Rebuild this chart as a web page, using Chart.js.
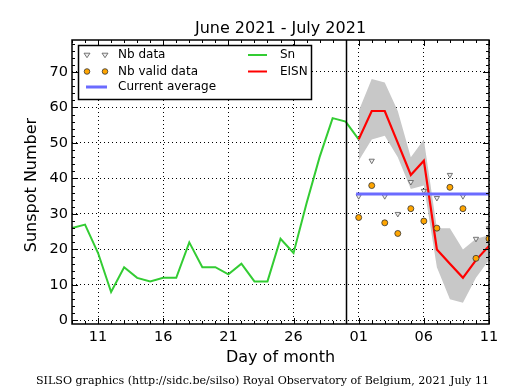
<!DOCTYPE html>
<html>
<head>
<meta charset="utf-8">
<script src="https://cdn.jsdelivr.net/npm/chart.js@4.4.1/dist/chart.umd.min.js"></script>
<style>
html,body{margin:0;padding:0;background:#fff}
#wrap{width:515px;height:390px}
</style>
</head>
<body>
<div id="wrap"><canvas id="c" width="515" height="390"></canvas></div>
<script>
// days counted from June 1 (31 = July 1)
const snDays = [9,10,11,12,13,14,15,16,17,18,19,20,21,22,23,24,25,26,27,28,29,30,31]
const snValues = [26,27,19,8,15,12,11,12,12,22,15,15,13,16,11,11,23,19,33,46,57,56,51]

const eisnDays = [31,32,33,34,35,36,37,38,39,40,41]
const eisnValues = [51,59,59,50,41,45,20,16,12,17,21]
const eisnHigh = [59,68,67,59,46,51,26,26,20,23,24]
const eisnLow = [45,51,52,46,37,38,15,6,5,12,17]
const nbData = [35,45,35,30,39,36.5,34.5,41,35,23,26]
const nbValid = [29,38,27.5,24.5,31.5,28,26,37.5,31.5,17.5,23]

const avgDays = [30.8,41]
const avgValues = [35.6,35.6]

const xTicks = [11,16,21,26,31,36,41]
const xTickLabels = ['11','16','21','26','01','06','11']
const yTicks = [0,10,20,30,40,50,60,70]
const monthEnd = 30

const FONT = "'DejaVu Sans', sans-serif"

function pts(xs, ys){
    return xs.map((x,i) => ({x:x, y:ys[i]}))
}

function downTri(ctx, x, y, r){
    ctx.beginPath()
    ctx.moveTo(x - r, y - r*0.6)
    ctx.lineTo(x + r, y - r*0.6)
    ctx.lineTo(x, y + r*0.9)
    ctx.closePath()
    ctx.fill()
    ctx.stroke()
}

const decor = {
    id: 'decor',
    afterDraw(chart){
        const ctx = chart.ctx
        const a = chart.chartArea
        const xs = chart.scales.x, ys = chart.scales.y
        ctx.save()

        // june / july separator
        const xv = Math.round(xs.getPixelForValue(monthEnd)) + 0.5
        ctx.strokeStyle = '#000'
        ctx.lineWidth = 1.5
        ctx.beginPath(); ctx.moveTo(xv, a.top); ctx.lineTo(xv, a.bottom); ctx.stroke()

        // tick marks, inside, all four sides
        ctx.lineWidth = 1
        ctx.beginPath()
        for (let d = 9; d <= 41; d++){
            const px = Math.round(xs.getPixelForValue(d)) + 0.5
            const len = xTicks.includes(d) ? 6 : 3
            ctx.moveTo(px, a.bottom); ctx.lineTo(px, a.bottom - len)
            ctx.moveTo(px, a.top); ctx.lineTo(px, a.top + len)
        }
        for (let v = 0; v <= 78; v += 2){
            const py = Math.round(ys.getPixelForValue(v)) + 0.5
            const len = yTicks.includes(v) ? 6 : 3
            ctx.moveTo(a.left, py); ctx.lineTo(a.left + len, py)
            ctx.moveTo(a.right, py); ctx.lineTo(a.right - len, py)
        }
        ctx.stroke()

        // frame
        ctx.lineWidth = 1.5
        ctx.strokeRect(a.left, a.top, a.right - a.left, a.bottom - a.top)

        // title + axis titles
        ctx.fillStyle = '#000'
        ctx.font = '16px ' + FONT
        ctx.textAlign = 'center'
        ctx.textBaseline = 'alphabetic'
        ctx.fillText('June 2021 - July 2021', (a.left + a.right)/2, 33)
        ctx.fillText('Day of month', (a.left + a.right)/2, 362)
        ctx.save()
        ctx.translate(36, (a.top + a.bottom)/2 + 3)
        ctx.rotate(-Math.PI/2)
        ctx.fillText('Sunspot Number', 0, 0)
        ctx.restore()

        // footer
        const foot = 'SILSO graphics (http://sidc.be/silso) Royal Observatory of Belgium, 2021 July 11'
        ctx.font = "10px 'DejaVu Serif', serif"
        const w10 = ctx.measureText(foot).width
        ctx.font = (10 * 453 / w10).toFixed(2) + "px 'DejaVu Serif', serif"
        ctx.textAlign = 'left'
        ctx.fillText(foot, 36, 384)

        // legend
        const lx = 78.5, ly = 45.5, lw = 233, lh = 54
        ctx.fillStyle = '#fff'
        ctx.fillRect(lx, ly, lw, lh)
        ctx.strokeStyle = '#000'
        ctx.lineWidth = 1.5
        ctx.strokeRect(lx, ly, lw, lh)
        const rows = [55, 71.5, 87]
        ctx.lineWidth = 0.8
        ctx.strokeStyle = '#555'
        ctx.fillStyle = '#eee'
        downTri(ctx, 87, rows[0], 3); downTri(ctx, 105, rows[0], 3)
        ctx.strokeStyle = '#333'
        ctx.fillStyle = '#ffa500'
        for (const cx of [87, 105]){
            ctx.beginPath(); ctx.arc(cx, rows[1], 2.8, 0, Math.PI*2); ctx.fill(); ctx.stroke()
        }
        ctx.lineWidth = 3
        ctx.strokeStyle = '#6b6bff'
        ctx.beginPath(); ctx.moveTo(86, rows[2]); ctx.lineTo(107, rows[2]); ctx.stroke()
        ctx.lineWidth = 2
        ctx.strokeStyle = '#33cc33'
        ctx.beginPath(); ctx.moveTo(248, rows[0]); ctx.lineTo(267, rows[0]); ctx.stroke()
        ctx.strokeStyle = '#ff0000'
        ctx.beginPath(); ctx.moveTo(248, rows[1]); ctx.lineTo(267, rows[1]); ctx.stroke()
        ctx.fillStyle = '#000'
        ctx.font = '12px ' + FONT
        ctx.textBaseline = 'middle'
        ctx.fillText('Nb data', 118, rows[0])
        ctx.fillText('Nb valid data', 118, rows[1])
        ctx.fillText('Current average', 118, rows[2])
        ctx.fillText('Sn', 280, rows[0])
        ctx.fillText('EISN', 280, rows[1])
        ctx.restore()
    }
}

new Chart(document.getElementById('c'), {
    type: 'line',
    data: {
        datasets: [
            {label:'Nb valid data', data: pts(eisnDays, nbValid), showLine:false, pointStyle:'circle',
             pointRadius:3, pointBackgroundColor:'#ffa500', pointBorderColor:'#333', pointBorderWidth:0.8, order:0},
            {label:'Current average', data: pts(avgDays, avgValues), borderColor:'#6b6bff', borderWidth:3,
             pointRadius:0, order:1},
            {label:'Nb data', data: pts(eisnDays, nbData), showLine:false, pointStyle:'triangle', rotation:180,
             pointRadius:3, pointBackgroundColor:'#eee', pointBorderColor:'#555', pointBorderWidth:0.8, order:2},
            {label:'EISN', data: pts(eisnDays, eisnValues), borderColor:'#ff0000', borderWidth:2.2,
             pointRadius:0, order:3},
            {label:'Sn', data: pts(snDays, snValues), borderColor:'#33cc33', borderWidth:2,
             pointRadius:0, order:4},
            {label:'high', data: pts(eisnDays, eisnHigh), borderWidth:0, borderColor:'rgba(0,0,0,0)',
             backgroundColor:'#c8c8c8', fill:6, pointRadius:0, order:5},
            {label:'low', data: pts(eisnDays, eisnLow), borderWidth:0, borderColor:'rgba(0,0,0,0)',
             pointRadius:0, order:6}
        ]
    },
    options: {
        responsive: false,
        animation: false,
        devicePixelRatio: 1,
        layout: {padding: {left:0, right:26, top:40, bottom:0}},
        plugins: {legend:{display:false}, tooltip:{enabled:false}, title:{display:false}},
        elements: {line: {tension:0}},
        scales: {
            x: {
                type: 'linear', min: 9, max: 41,
                afterBuildTicks: s => { s.ticks = xTicks.map(v => ({value:v})) },
                afterFit: s => { s.height = 66 },
                ticks: {
                    color:'#000', font:{family:FONT, size:14.5}, padding:5, maxRotation:0,
                    callback: v => xTickLabels[xTicks.indexOf(v)]
                },
                grid: {color:'#000', lineWidth:1, drawTicks:false},
                border: {display:false, dash:[1,3]}
            },
            y: {
                min: -1, max: 79,
                afterBuildTicks: s => { s.ticks = yTicks.map(v => ({value:v})) },
                afterFit: s => { s.width = 72 },
                ticks: {color:'#000', font:{family:FONT, size:14.5}, padding:4},
                grid: {color:'#000', lineWidth:1, drawTicks:false},
                border: {display:false, dash:[1,3]}
            }
        }
    },
    plugins: [decor]
})
</script>
</body>
</html>
